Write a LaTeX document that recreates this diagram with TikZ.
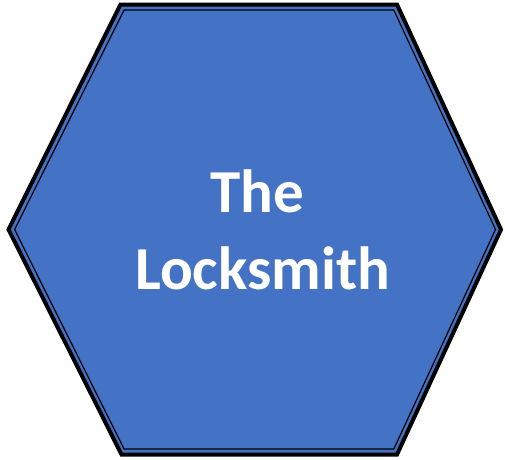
\documentclass[tikz,border=0pt]{standalone}
\usepackage{fontspec}
\setmainfont{Carlito}
\definecolor{hexblue}{HTML}{4472C4}
\begin{document}
\begin{tikzpicture}[x=1pt,y=-1pt,
  outerline/.style={draw=black,line width=4pt,line join=miter,fill=hexblue},
  innerline/.style={draw=black,line width=1.2pt,line join=miter},
  label/.style={text=white,font=\fontsize{61}{75}\selectfont\bfseries,inner sep=0pt,anchor=base}]
\useasboundingbox (0,0) rectangle (505,459);
\draw[outerline] (120.5,4.5) -- (397,4.5) -- (501,229.5) -- (397,454.5) -- (121.5,454.5) -- (8.5,229.5) -- cycle;
\draw[innerline] (124.1,10) -- (393.8,10) -- (495.5,229.5) -- (393.8,449) -- (124.1,449) -- (14.6,229.5) -- cycle;
\node[label] (the) at (257,212) {The};
\node[label] (lock) at (262.5,289) {Locksmith};
\end{tikzpicture}
\end{document}
